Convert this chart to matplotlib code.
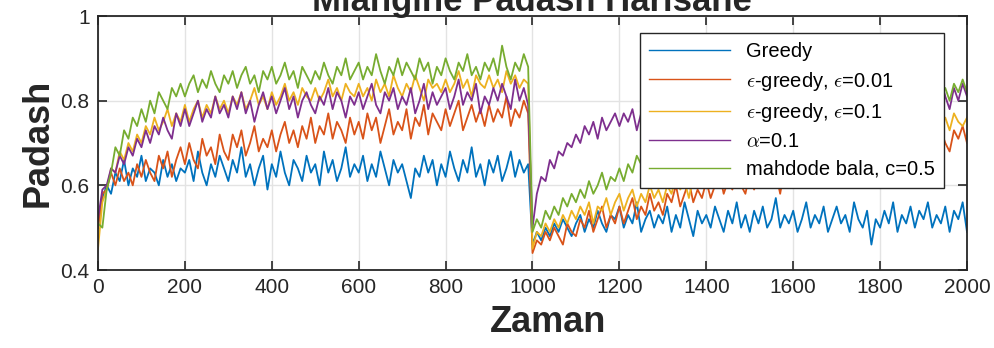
import numpy as np
import matplotlib
matplotlib.use('Agg')
from matplotlib import pyplot as plt

plt.rcParams['font.family'] = ['Liberation Sans', 'DejaVu Sans']
plt.rcParams['mathtext.fontset'] = 'cm'

# sample times (every 10 steps)
t = np.arange(0, 2001, 10)

greedy = [
    0.50, 0.57, 0.60, 0.58, 0.63, 0.61, 0.66, 0.60, 0.64, 0.62,
    0.67, 0.61, 0.64, 0.63, 0.60, 0.66, 0.62, 0.65, 0.61, 0.64,
    0.63, 0.66, 0.61, 0.68, 0.63, 0.60, 0.65, 0.62, 0.67, 0.64,
    0.61, 0.66, 0.63, 0.69, 0.62, 0.65, 0.60, 0.64, 0.67, 0.59,
    0.65, 0.62, 0.68, 0.63, 0.60, 0.66, 0.64, 0.61, 0.67, 0.63,
    0.65, 0.60, 0.68, 0.63, 0.66, 0.61, 0.64, 0.69, 0.62, 0.65,
    0.63, 0.67, 0.61, 0.65, 0.62, 0.68, 0.64, 0.60, 0.66, 0.63,
    0.65, 0.61, 0.57, 0.64, 0.62, 0.67, 0.63, 0.66, 0.60, 0.65,
    0.62, 0.68, 0.64, 0.61, 0.66, 0.63, 0.69, 0.62, 0.65, 0.60,
    0.66, 0.63, 0.67, 0.61, 0.64, 0.68, 0.62, 0.66, 0.63, 0.65,
    0.46, 0.49, 0.47, 0.50, 0.48, 0.51, 0.49, 0.52, 0.50, 0.48,
    0.51, 0.53, 0.49, 0.52, 0.50, 0.54, 0.51, 0.49, 0.53, 0.52,
    0.55, 0.50, 0.53, 0.51, 0.56, 0.49, 0.52, 0.54, 0.50, 0.53,
    0.51, 0.55, 0.49, 0.53, 0.50, 0.56, 0.52, 0.48, 0.54, 0.51,
    0.53, 0.50, 0.55, 0.52, 0.49, 0.54, 0.51, 0.56, 0.50, 0.53,
    0.49, 0.54, 0.51, 0.55, 0.50, 0.52, 0.57, 0.50, 0.53, 0.51,
    0.54, 0.49, 0.52, 0.56, 0.50, 0.53, 0.51, 0.55, 0.49, 0.52,
    0.55, 0.51, 0.53, 0.49, 0.56, 0.52, 0.50, 0.54, 0.46, 0.52,
    0.50, 0.54, 0.51, 0.56, 0.49, 0.53, 0.51, 0.55, 0.50, 0.54,
    0.52, 0.56, 0.50, 0.53, 0.51, 0.55, 0.49, 0.54, 0.52, 0.56,
    0.49]

eps001 = [
    0.50, 0.58, 0.59, 0.63, 0.60, 0.64, 0.61, 0.63, 0.60, 0.65,
    0.62, 0.66, 0.63, 0.61, 0.67, 0.64, 0.68, 0.62, 0.66, 0.69,
    0.65, 0.70, 0.66, 0.64, 0.71, 0.67, 0.69, 0.65, 0.72, 0.68,
    0.66, 0.72, 0.69, 0.73, 0.67, 0.70, 0.74, 0.68, 0.71, 0.69,
    0.73, 0.68, 0.72, 0.75, 0.70, 0.73, 0.69, 0.74, 0.71, 0.76,
    0.70, 0.74, 0.72, 0.77, 0.71, 0.75, 0.73, 0.70, 0.76, 0.72,
    0.75, 0.71, 0.77, 0.73, 0.76, 0.70, 0.74, 0.78, 0.72, 0.75,
    0.73, 0.78, 0.71, 0.76, 0.74, 0.79, 0.72, 0.77, 0.75, 0.73,
    0.78, 0.74, 0.77, 0.80, 0.73, 0.76, 0.79, 0.75, 0.78, 0.74,
    0.79, 0.75, 0.78, 0.76, 0.81, 0.74, 0.78, 0.76, 0.80, 0.77,
    0.44, 0.47, 0.46, 0.49, 0.47, 0.50, 0.48, 0.46, 0.51, 0.49,
    0.48, 0.52, 0.50, 0.54, 0.49, 0.52, 0.55, 0.50, 0.53, 0.51,
    0.55, 0.51, 0.54, 0.57, 0.52, 0.55, 0.53, 0.58, 0.54, 0.56,
    0.53, 0.58, 0.56, 0.60, 0.55, 0.58, 0.61, 0.56, 0.59, 0.57,
    0.61, 0.57, 0.60, 0.63, 0.58, 0.61, 0.59, 0.64, 0.60, 0.58,
    0.63, 0.59, 0.62, 0.60, 0.65, 0.61, 0.63, 0.58, 0.64, 0.62,
    0.61, 0.66, 0.63, 0.65, 0.60, 0.64, 0.67, 0.62, 0.66, 0.64,
    0.67, 0.63, 0.66, 0.69, 0.64, 0.67, 0.65, 0.70, 0.64, 0.68,
    0.66, 0.70, 0.67, 0.65, 0.71, 0.68, 0.70, 0.66, 0.72, 0.69,
    0.71, 0.67, 0.72, 0.69, 0.73, 0.70, 0.68, 0.73, 0.71, 0.74,
    0.70]

eps01 = [
    0.45, 0.56, 0.59, 0.64, 0.63, 0.68, 0.66, 0.70, 0.68, 0.72,
    0.70, 0.74, 0.72, 0.76, 0.73, 0.75, 0.78, 0.74, 0.77, 0.75,
    0.79, 0.75, 0.78, 0.80, 0.76, 0.79, 0.77, 0.81, 0.78, 0.80,
    0.77, 0.81, 0.79, 0.82, 0.78, 0.80, 0.83, 0.79, 0.81, 0.78,
    0.82, 0.79, 0.81, 0.84, 0.80, 0.82, 0.79, 0.83, 0.81, 0.80,
    0.83, 0.80, 0.82, 0.85, 0.81, 0.83, 0.80, 0.84, 0.82, 0.81,
    0.84, 0.81, 0.83, 0.80, 0.85, 0.82, 0.84, 0.81, 0.86, 0.83,
    0.81, 0.84, 0.82, 0.86, 0.83, 0.80, 0.85, 0.83, 0.84, 0.82,
    0.85, 0.82, 0.84, 0.87, 0.83, 0.85, 0.81, 0.86, 0.84, 0.83,
    0.86, 0.83, 0.85, 0.82, 0.87, 0.84, 0.86, 0.83, 0.85, 0.84,
    0.45, 0.49, 0.48, 0.51, 0.49, 0.52, 0.50, 0.53, 0.51, 0.54,
    0.52, 0.55, 0.53, 0.56, 0.51, 0.55, 0.54, 0.57, 0.53, 0.56,
    0.58, 0.54, 0.57, 0.59, 0.55, 0.58, 0.56, 0.60, 0.57, 0.59,
    0.56, 0.60, 0.58, 0.62, 0.59, 0.61, 0.57, 0.62, 0.60, 0.63,
    0.60, 0.63, 0.61, 0.64, 0.62, 0.60, 0.65, 0.62, 0.64, 0.61,
    0.65, 0.62, 0.64, 0.67, 0.63, 0.66, 0.64, 0.68, 0.65, 0.67,
    0.64, 0.68, 0.66, 0.69, 0.67, 0.65, 0.70, 0.67, 0.69, 0.68,
    0.70, 0.67, 0.69, 0.72, 0.68, 0.70, 0.71, 0.68, 0.72, 0.70,
    0.72, 0.69, 0.71, 0.74, 0.70, 0.73, 0.71, 0.75, 0.72, 0.74,
    0.72, 0.75, 0.73, 0.77, 0.74, 0.76, 0.73, 0.77, 0.75, 0.74,
    0.76]

alpha01 = [
    0.52, 0.59, 0.60, 0.64, 0.63, 0.67, 0.65, 0.69, 0.67, 0.71,
    0.69, 0.73, 0.70, 0.74, 0.72, 0.76, 0.73, 0.71, 0.77, 0.74,
    0.78, 0.74, 0.77, 0.80, 0.75, 0.78, 0.76, 0.81, 0.77, 0.79,
    0.76, 0.81, 0.78, 0.82, 0.77, 0.80, 0.75, 0.79, 0.82, 0.78,
    0.81, 0.77, 0.80, 0.83, 0.78, 0.81, 0.76, 0.80, 0.82, 0.79,
    0.77, 0.81, 0.79, 0.83, 0.78, 0.82, 0.80, 0.76, 0.81, 0.79,
    0.82, 0.78, 0.81, 0.84, 0.79, 0.77, 0.82, 0.80, 0.83, 0.78,
    0.81, 0.79, 0.83, 0.77, 0.80, 0.84, 0.78, 0.82, 0.79, 0.81,
    0.83, 0.78, 0.81, 0.85, 0.79, 0.82, 0.80, 0.84, 0.77, 0.81,
    0.79, 0.83, 0.80, 0.84, 0.81, 0.78, 0.85, 0.80, 0.83, 0.79,
    0.50, 0.58, 0.62, 0.61, 0.66, 0.64, 0.68, 0.67, 0.70, 0.69,
    0.72, 0.70, 0.74, 0.72, 0.75, 0.71, 0.76, 0.73, 0.75, 0.77,
    0.74, 0.77, 0.75, 0.78, 0.73, 0.77, 0.79, 0.75, 0.78, 0.76,
    0.79, 0.76, 0.78, 0.81, 0.77, 0.79, 0.76, 0.80, 0.78, 0.81,
    0.77, 0.80, 0.78, 0.82, 0.79, 0.76, 0.81, 0.79, 0.82, 0.78,
    0.80, 0.77, 0.81, 0.79, 0.83, 0.78, 0.80, 0.76, 0.81, 0.79,
    0.82, 0.78, 0.81, 0.79, 0.83, 0.80, 0.77, 0.82, 0.80, 0.84,
    0.79, 0.82, 0.78, 0.81, 0.84, 0.79, 0.81, 0.77, 0.83, 0.80,
    0.82, 0.79, 0.83, 0.80, 0.78, 0.84, 0.81, 0.79, 0.83, 0.80,
    0.84, 0.79, 0.82, 0.80, 0.85, 0.81, 0.78, 0.83, 0.80, 0.84,
    0.81]

ucb05 = [
    0.51, 0.50, 0.59, 0.63, 0.69, 0.67, 0.73, 0.71, 0.76, 0.74,
    0.78, 0.75, 0.80, 0.77, 0.82, 0.80, 0.78, 0.83, 0.81, 0.84,
    0.81, 0.84, 0.86, 0.82, 0.85, 0.83, 0.87, 0.84, 0.82, 0.86,
    0.84, 0.87, 0.83, 0.86, 0.88, 0.84, 0.86, 0.82, 0.87, 0.85,
    0.88, 0.84, 0.86, 0.89, 0.85, 0.87, 0.83, 0.88, 0.86, 0.84,
    0.87, 0.85, 0.89, 0.86, 0.84, 0.88, 0.86, 0.90, 0.85, 0.87,
    0.89, 0.85, 0.88, 0.86, 0.91, 0.87, 0.84, 0.88, 0.86, 0.90,
    0.86, 0.89, 0.87, 0.85, 0.90, 0.87, 0.89, 0.84, 0.88, 0.86,
    0.90, 0.87, 0.85, 0.89, 0.87, 0.91, 0.86, 0.88, 0.85, 0.89,
    0.87, 0.90, 0.86, 0.93, 0.88, 0.85, 0.89, 0.87, 0.91, 0.88,
    0.49, 0.52, 0.50, 0.54, 0.52, 0.55, 0.53, 0.57, 0.55, 0.58,
    0.56, 0.59, 0.57, 0.61, 0.58, 0.60, 0.63, 0.59, 0.62, 0.61,
    0.64, 0.61, 0.65, 0.63, 0.67, 0.65, 0.68, 0.66, 0.70, 0.67,
    0.69, 0.71, 0.68, 0.72, 0.70, 0.73, 0.69, 0.72, 0.71, 0.74,
    0.71, 0.74, 0.72, 0.75, 0.73, 0.71, 0.76, 0.73, 0.75, 0.74,
    0.76, 0.73, 0.75, 0.78, 0.74, 0.77, 0.75, 0.79, 0.76, 0.74,
    0.78, 0.75, 0.77, 0.80, 0.76, 0.79, 0.77, 0.75, 0.80, 0.78,
    0.76, 0.80, 0.78, 0.81, 0.79, 0.77, 0.82, 0.79, 0.81, 0.78,
    0.81, 0.78, 0.80, 0.83, 0.79, 0.82, 0.80, 0.84, 0.81, 0.79,
    0.83, 0.80, 0.82, 0.85, 0.81, 0.83, 0.80, 0.84, 0.82, 0.85,
    0.82]

labels = ['Greedy', r'$\epsilon$-greedy, $\epsilon$=0.01', r'$\epsilon$-greedy, $\epsilon$=0.1',
          r'$\alpha$=0.1', 'mahdode bala, c=0.5']
colors = ['#0072BD', '#D95319', '#EDB120', '#7E2F8E', '#77AC30']
xticks = list(range(0, 2001, 200))
yticks = [0.4, 0.6, 0.8, 1.0]
yticklabels = ['0.4', '0.6', '0.8', '1']

fig = plt.figure(figsize=(9.95, 3.48), dpi=100)
ax = fig.add_axes([98/995, 78/348, 869/995, 254/348])

for ys, c, lab in zip([greedy, eps001, eps01, alpha01, ucb05], colors, labels):
    ax.plot(t, ys, color=c, lw=1.3, label=lab)

ax.set_xlim(0, 2000)
ax.set_ylim(0.4, 1.0)
ax.set_xticks(xticks)
ax.set_yticks(yticks)
ax.set_yticklabels(yticklabels)
ax.grid(True, color='#e3e3e3', lw=1.0)
ax.set_axisbelow(True)
ax.tick_params(direction='in', length=6.5, width=1.2, top=True, right=True,
               labelsize=15, colors='#262626', pad=6)
for s in ax.spines.values():
    s.set_color('#262626')
    s.set_linewidth(1.3)

leg = ax.legend(loc='upper right', bbox_to_anchor=(0.9735, 0.933), borderaxespad=0,
                fontsize=14.5, handlelength=4.0, handletextpad=0.8, labelspacing=0.42,
                borderpad=0.45, fancybox=False, framealpha=1, edgecolor='#262626')
leg.get_frame().set_linewidth(1.0)
for h in leg.get_lines():
    h.set_linewidth(1.0)

fig.text(0.535, 1 - 11/348, 'Miangine Padash Harlsane', ha='center', va='baseline',
         fontsize=25, fontweight='bold', color='#262626')
fig.text(38/995, 1 - 143/348, 'Padash', ha='center', va='center', rotation=90,
         fontsize=26, fontweight='bold', color='#262626')
fig.text(548/995, 1 - 322/348, 'Zaman', ha='center', va='center',
         fontsize=26, fontweight='bold', color='#262626')

fig.savefig('out.png', dpi=100)
